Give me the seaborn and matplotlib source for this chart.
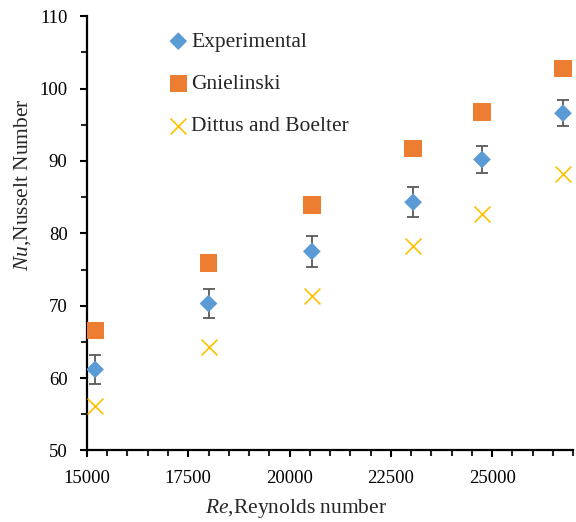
import matplotlib
matplotlib.use("Agg")
import matplotlib.pyplot as plt
import numpy as np
import pandas as pd
import seaborn as sns
from matplotlib.ticker import MultipleLocator

# values
reynolds = [15200, 18000, 20550, 23050, 24750, 26750]
nu_experimental = [61.2, 70.3, 77.5, 84.3, 90.2, 96.6]
nu_error = [2.0, 2.0, 2.2, 2.1, 1.9, 1.8]
nu_gnielinski = [66.6, 75.9, 83.9, 91.7, 96.8, 102.8]
nu_dittus_boelter = [56.1, 64.3, 71.4, 78.2, 82.7, 88.2]

df = pd.DataFrame({
    "Re": reynolds,
    "Experimental": nu_experimental,
    "Gnielinski": nu_gnielinski,
    "Dittus and Boelter": nu_dittus_boelter,
})

sns.set_style("white")
plt.rcParams["font.family"] = ["Liberation Serif", "DejaVu Serif"]
plt.rcParams["mathtext.fontset"] = "custom"
plt.rcParams["mathtext.rm"] = "Liberation Serif"
plt.rcParams["mathtext.it"] = "Liberation Serif:italic"

fig = plt.figure(figsize=(5.76, 5.22), dpi=100)
ax = fig.add_axes([0.151, 0.137, 0.844, 0.832])

ax.errorbar(df["Re"], df["Experimental"], yerr=nu_error, fmt="none",
            ecolor="#595959", elinewidth=1.3, capsize=4.3, capthick=1.3, zorder=2)
sns.scatterplot(data=df, x="Re", y="Experimental", marker="D", s=81,
                color="#5B9BD5", edgecolor="none", label="Experimental", ax=ax, zorder=3)
sns.scatterplot(data=df, x="Re", y="Gnielinski", marker="s", s=160,
                color="#ED7D31", edgecolor="none", label="Gnielinski", ax=ax, zorder=3)
sns.scatterplot(data=df, x="Re", y="Dittus and Boelter", marker="x", s=130,
                color="#FFC000", linewidth=1.2, label="Dittus and Boelter", ax=ax, zorder=3)

ax.set_xlim(15000, 27000)
ax.set_ylim(50, 110)
ax.xaxis.set_major_locator(MultipleLocator(2500))
ax.xaxis.set_minor_locator(MultipleLocator(500))
ax.yaxis.set_major_locator(MultipleLocator(10))
ax.yaxis.set_minor_locator(MultipleLocator(5))
ax.tick_params(which="major", direction="out", length=5, width=1.5, labelsize=13.5,
               bottom=True, left=True, colors="black")
ax.tick_params(which="minor", direction="out", length=4, width=1.5,
               bottom=True, left=True)
ax.tick_params(axis="x", pad=9)
ax.tick_params(axis="y", pad=9)

sns.despine(ax=ax)
for side in ("left", "bottom"):
    ax.spines[side].set_linewidth(1.6)
    ax.spines[side].set_color("black")

ax.set_xlabel(r"$\mathit{Re}$,Reynolds number", fontsize=15.5)
ax.set_ylabel(r"$\mathit{Nu}$,Nusselt Number", fontsize=15.5)
ax.xaxis.set_label_coords(0.431, -0.108)
ax.yaxis.set_label_coords(-0.112, 0.612)

ax.legend(loc="upper left", bbox_to_anchor=(0.148, 0.984), frameon=False,
          fontsize=15.5, labelspacing=1.03, handletextpad=0.1, handlelength=1.0,
          borderaxespad=0)

fig.savefig("out.png", dpi=100)
